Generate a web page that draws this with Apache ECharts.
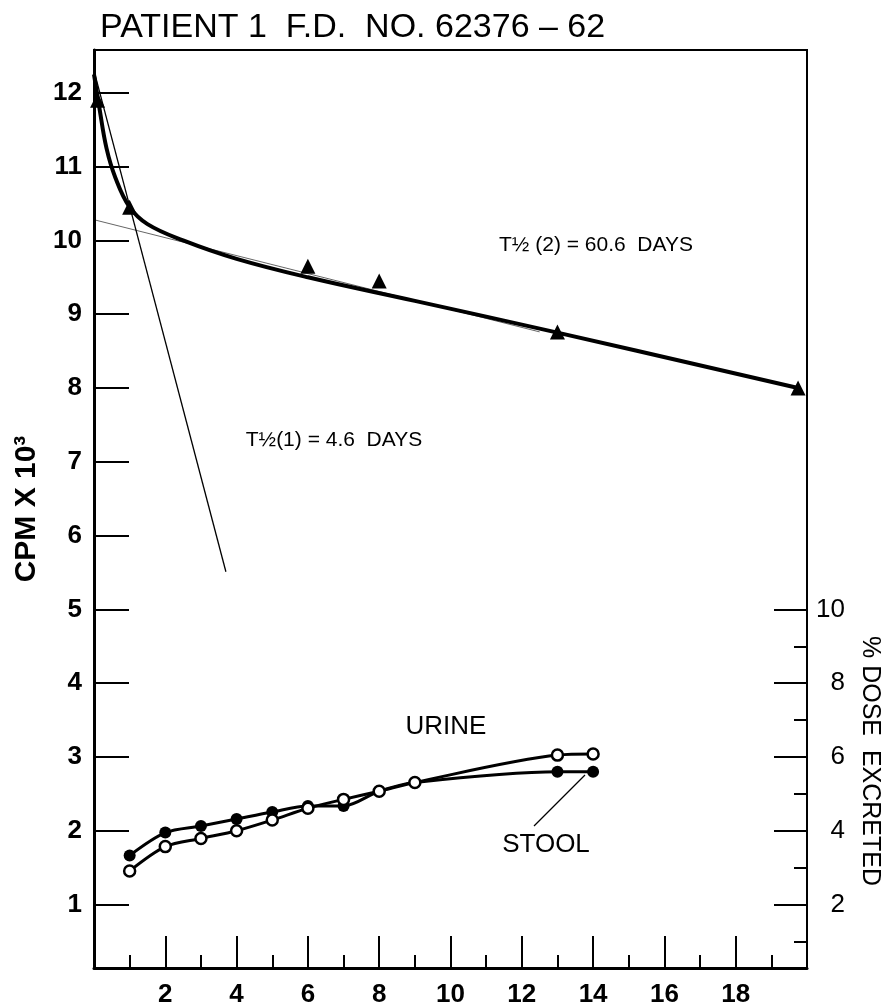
<!DOCTYPE html>
<html>
<head>
<meta charset="utf-8">
<title>Patient 1 F.D. No. 62376-62</title>
<script src="https://cdn.jsdelivr.net/npm/echarts@6/dist/echarts.min.js"></script>
<style>
  html, body { margin: 0; padding: 0; background: #fff; }
  #chart { width: 889px; height: 1008px; }
</style>
</head>
<body>
<div id="chart"></div>
<script>
// blood activity, CPM x 10^3 (triangles)
const triDays = [0.1, 1, 6, 8, 13, 19.75];
const triCpm = [11.9, 10.45, 9.65, 9.45, 8.76, 8.0];

// the drawn fit curve
const fitDays = [0, 0.15, 0.35, 0.6, 1, 1.5, 2.5, 4, 6, 9, 13, 19.75];
const fitCpm = [12.25, 11.8, 11.25, 10.85, 10.45, 10.22, 10.0, 9.75, 9.5, 9.18, 8.75, 8.0];

// half-life construction lines
const fastDays = [0, 3.7];
const fastCpm = [12.3, 5.51];
const slowDays = [0, 12.5];
const slowCpm = [10.28, 8.76];

// cumulative % dose excreted (right axis)
const excDays = [1, 2, 3, 4, 5, 6, 7, 8, 9, 13, 14];
const urinePct = [2.91, 3.57, 3.79, 4.0, 4.29, 4.61, 4.85, 5.07, 5.31, 6.05, 6.08];
const stoolPct = [3.33, 3.95, 4.13, 4.32, 4.51, 4.67, 4.67, 5.07, 5.31, 5.6, 5.6];

// tick labels
const cpmTicks = [1, 2, 3, 4, 5, 6, 7, 8, 9, 10, 11, 12];
const pctMajor = [2, 4, 6, 8, 10];
const pctMinor = [1, 3, 5, 7, 9];

const FONT = 'Liberation Sans';
const cpmMin = 0.14, cpmMax = 12.58;

const zip = (xs, ys) => xs.map((x, i) => [x, ys[i]]);

const chart = echarts.init(document.getElementById('chart'));

chart.setOption({
  backgroundColor: '#fff',
  animation: false,
  textStyle: { fontFamily: FONT, color: '#000' },
  title: {
    text: 'PATIENT 1  F.D.  NO. 62376 – 62',
    left: 95,
    top: 6,
    textStyle: { fontFamily: FONT, fontSize: 34, fontWeight: 'normal', color: '#000' }
  },
  grid: {
    left: 94, right: 82, top: 50, bottom: 35,
    show: true, borderColor: '#000', borderWidth: 2, backgroundColor: 'transparent'
  },
  xAxis: {
    type: 'value',
    min: 0, max: 20, interval: 2,
    axisLine: { lineStyle: { color: '#000', width: 3 } },
    axisTick: { inside: true, length: 32, lineStyle: { color: '#000', width: 2 } },
    minorTick: { show: true, splitNumber: 2, length: 13, lineStyle: { color: '#000', width: 2 } },
    axisLabel: {
      margin: 14, fontSize: 26, fontWeight: 'bold', color: '#000',
      formatter: v => (v === 0 || v === 20) ? '' : String(v)
    },
    splitLine: { show: false }
  },
  yAxis: [
    {
      type: 'value', position: 'left',
      min: cpmMin, max: cpmMax,
      name: 'CPM X 10³', nameLocation: 'middle', nameGap: 50,
      nameTextStyle: { fontFamily: FONT, fontSize: 30, fontWeight: 'bold', color: '#000' },
      axisLine: { show: true, lineStyle: { color: '#000', width: 3 } },
      axisTick: { inside: true, length: 35, customValues: cpmTicks, lineStyle: { color: '#000', width: 2 } },
      axisLabel: { customValues: cpmTicks, margin: 12, fontSize: 26, fontWeight: 'bold', color: '#000' },
      splitLine: { show: false }
    },
    {
      type: 'value', position: 'right',
      min: cpmMin * 2, max: cpmMax * 2,
      axisLine: { show: true, lineStyle: { color: '#000', width: 2 } },
      axisTick: { inside: true, length: 33, customValues: pctMajor, lineStyle: { color: '#000', width: 2 } },
      axisLabel: { customValues: pctMajor, margin: 38, align: 'right', fontSize: 26, color: '#000' },
      splitLine: { show: false }
    },
    {
      type: 'value', position: 'right',
      min: cpmMin * 2, max: cpmMax * 2,
      axisLine: { show: false },
      axisTick: { inside: true, length: 13, customValues: pctMinor, lineStyle: { color: '#000', width: 2 } },
      axisLabel: { show: false },
      splitLine: { show: false }
    }
  ],
  series: [
    {
      name: 'fit', type: 'line', data: zip(fitDays, fitCpm),
      smooth: 0.4, showSymbol: false,
      lineStyle: { color: '#000', width: 4 }, z: 3
    },
    {
      name: 'T1/2 (1)', type: 'line', data: zip(fastDays, fastCpm),
      showSymbol: false, lineStyle: { color: '#000', width: 1.3 }, z: 2
    },
    {
      name: 'T1/2 (2)', type: 'line', data: zip(slowDays, slowCpm),
      showSymbol: false, lineStyle: { color: '#000', width: 1, opacity: 0.6 }, z: 2
    },
    {
      name: 'CPM', type: 'scatter', data: zip(triDays, triCpm),
      symbol: 'triangle', symbolSize: 15,
      itemStyle: { color: '#000', opacity: 1 }, z: 4
    },
    {
      name: 'STOOL', type: 'line', yAxisIndex: 1, data: zip(excDays, stoolPct),
      smooth: 0.3, symbol: 'circle', symbolSize: 12,
      lineStyle: { color: '#000', width: 3 },
      itemStyle: { color: '#000' }, z: 3
    },
    {
      name: 'URINE', type: 'line', yAxisIndex: 1, data: zip(excDays, urinePct),
      smooth: 0.3, symbol: 'circle', symbolSize: 11,
      lineStyle: { color: '#000', width: 3 },
      itemStyle: { color: '#fff', borderColor: '#000', borderWidth: 2.5 }, z: 4
    }
  ],
  graphic: [
    {
      type: 'text', x: 596, y: 245,
      style: { text: 'T½ (2) = 60.6  DAYS', font: '21px ' + FONT, fill: '#000', align: 'center', verticalAlign: 'middle' }
    },
    {
      type: 'text', x: 334, y: 440,
      style: { text: 'T½(1) = 4.6  DAYS', font: '21px ' + FONT, fill: '#000', align: 'center', verticalAlign: 'middle' }
    },
    {
      type: 'text', x: 446, y: 727,
      style: { text: 'URINE', font: '26px ' + FONT, fill: '#000', align: 'center', verticalAlign: 'middle' }
    },
    {
      type: 'text', x: 546, y: 845,
      style: { text: 'STOOL', font: '26px ' + FONT, fill: '#000', align: 'center', verticalAlign: 'middle' }
    },
    {
      type: 'line', shape: { x1: 534, y1: 826, x2: 585, y2: 775 },
      style: { stroke: '#000', lineWidth: 1.2 }
    },
    {
      type: 'text', x: 870, y: 761, rotation: -Math.PI / 2,
      style: { text: '% DOSE  EXCRETED', font: '25px ' + FONT, fill: '#000', align: 'center', verticalAlign: 'middle' }
    }
  ]
});
</script>
</body>
</html>
